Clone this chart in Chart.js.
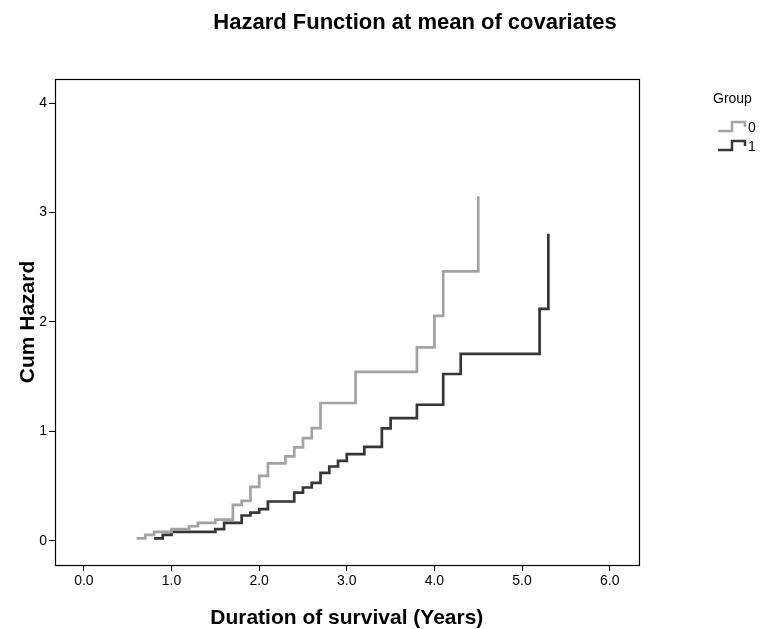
<!DOCTYPE html>
<html><head><meta charset="utf-8">
<script src="https://cdn.jsdelivr.net/npm/chart.js@4.4.0/dist/chart.umd.min.js"></script>
<style>html,body{margin:0;padding:0;background:#fff}#wrap{width:763px;height:629px}</style>
</head><body><div id="wrap"><canvas id="c" width="763" height="629"></canvas></div>
<script>
const chartTitle = 'Hazard Function at mean of covariates';
const xTitle = 'Duration of survival (Years)';
const yTitle = 'Cum Hazard';
const legendTitle = 'Group';
const groupLabels = ['0', '1'];
const time0 = [0.6, 0.7, 0.8, 1.0, 1.2, 1.3, 1.5, 1.7, 1.8, 1.9, 2.0, 2.1, 2.3, 2.4, 2.5, 2.6, 2.7, 3.1, 3.8, 4.0, 4.1, 4.5];
const hazard0 = [0.024, 0.055, 0.082, 0.107, 0.134, 0.165, 0.195, 0.329, 0.366, 0.494, 0.595, 0.708, 0.772, 0.854, 0.940, 1.031, 1.260, 1.544, 1.769, 2.056, 2.462, 3.148];
const time1 = [0.8, 0.9, 1.0, 1.5, 1.6, 1.8, 1.9, 2.0, 2.1, 2.4, 2.5, 2.6, 2.7, 2.8, 2.9, 3.0, 3.2, 3.4, 3.5, 3.8, 4.1, 4.3, 5.2, 5.3];
const hazard1 = [0.024, 0.055, 0.082, 0.107, 0.165, 0.232, 0.259, 0.290, 0.360, 0.442, 0.488, 0.531, 0.622, 0.680, 0.732, 0.793, 0.860, 1.028, 1.122, 1.244, 1.525, 1.708, 2.120, 2.807];
const xTicks = [0, 1, 2, 3, 4, 5, 6];
const yTicks = [0, 1, 2, 3, 4];

const FONT = "'Liberation Sans', Arial, sans-serif";
const colors = ['#a2a2a2', '#363636'];

function pts(ts, vs) { return ts.map((t, i) => ({ x: t, y: vs[i] })); }

const framePlugin = {
  id: 'frame',
  afterDraw(chart) {
    const { ctx, chartArea: a } = chart;
    ctx.save();
    ctx.strokeStyle = '#000';
    ctx.lineWidth = 1.2;
    ctx.strokeRect(Math.round(a.left) + 0.5, Math.round(a.top) + 0.5, Math.round(a.right - a.left), Math.round(a.bottom - a.top));
    // title
    ctx.fillStyle = '#000';
    ctx.font = 'bold 22px ' + FONT;
    ctx.textAlign = 'center';
    ctx.textBaseline = 'middle';
    ctx.fillText(chartTitle, 415, 23);
    // legend
    ctx.font = '14px ' + FONT;
    ctx.textAlign = 'left';
    ctx.fillText(legendTitle, 713, 99);
    const rows = [127, 146];
    chart.data.datasets.forEach((ds, i) => {
      const y = rows[i];
      ctx.strokeStyle = ds.borderColor;
      ctx.lineWidth = 2.5;
      ctx.beginPath();
      ctx.moveTo(718, y + 4);
      ctx.lineTo(732, y + 4);
      ctx.lineTo(732, y - 5);
      ctx.lineTo(745, y - 5);
      ctx.lineTo(745, y);
      ctx.stroke();
      ctx.fillStyle = '#000';
      ctx.fillText(ds.label, 748, y + 1);
    });
    ctx.restore();
  }
};

new Chart(document.getElementById('c'), {
  type: 'line',
  data: {
    datasets: [
      { label: groupLabels[0], data: pts(time0, hazard0), stepped: 'before', borderColor: colors[0], borderWidth: 2.7, pointRadius: 0, fill: false },
      { label: groupLabels[1], data: pts(time1, hazard1), stepped: 'before', borderColor: colors[1], borderWidth: 2.7, pointRadius: 0, fill: false }
    ]
  },
  options: {
    responsive: false,
    animation: false,
    devicePixelRatio: 1,
    layout: { padding: { top: 79, right: 124.4, bottom: 0, left: 0 } },
    plugins: { legend: { display: false }, tooltip: { enabled: false }, title: { display: false } },
    scales: {
      x: {
        type: 'linear', position: 'bottom', min: -0.33, max: 6.33,
        afterFit(s) { s.height = 64; },
        afterBuildTicks(s) { s.ticks = xTicks.map(v => ({ value: v })); },
        ticks: { callback: v => Number(v).toFixed(1), font: { family: FONT, size: 14 }, color: '#000', padding: 2, maxRotation: 0, autoSkip: false },
        grid: { drawOnChartArea: false, drawTicks: true, tickLength: 6, color: '#000', lineWidth: 1 },
        border: { display: true, color: '#000', width: 1 },
        title: { display: true, text: xTitle, font: { family: FONT, size: 21, weight: 'bold', lineHeight: 1.05 }, color: '#000', padding: { top: 0, bottom: 0 } }
      },
      y: {
        type: 'linear', position: 'left', min: -0.22, max: 4.22,
        afterFit(s) { s.width = 55; },
        afterBuildTicks(s) { s.ticks = yTicks.map(v => ({ value: v })); },
        ticks: { callback: v => String(v), font: { family: FONT, size: 14 }, color: '#000', padding: 2, autoSkip: false },
        grid: { drawOnChartArea: false, drawTicks: true, tickLength: 6, color: '#000', lineWidth: 1 },
        border: { display: true, color: '#000', width: 1 },
        title: { display: true, text: yTitle, font: { family: FONT, size: 21, weight: 'bold' }, color: '#000', padding: { top: 16, bottom: 0 } }
      }
    }
  },
  plugins: [framePlugin]
});
</script>
</body></html>
